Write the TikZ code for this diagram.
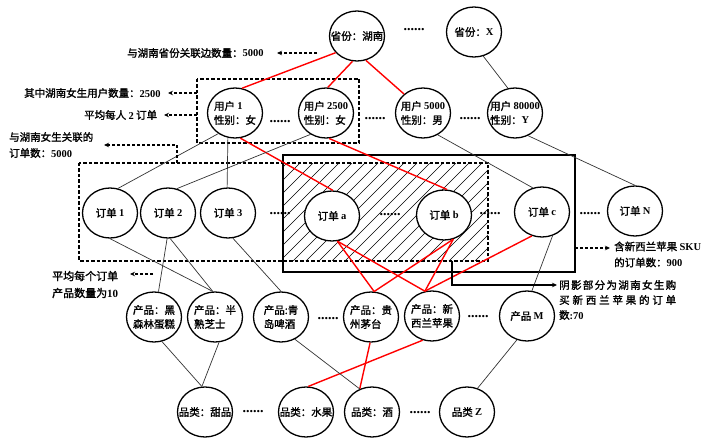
\documentclass[tikz,border=0pt]{standalone}
\usepackage{fontspec}
\setmainfont{Noto Sans CJK SC}[AutoFakeBold=1.6]
\newfontfamily\lat{Liberation Serif}
\usetikzlibrary{shapes.geometric,arrows.meta}
\newcommand{\la}[1]{{\lat\bfseries #1}}
\newcommand{\mynode}[3]{\node[ell] (#1) at (#2) {}; \node[ntxt] (#1t) at (#1) {#3};}
\begin{document}
\begin{tikzpicture}[x=1pt,y=-1pt,
 ell/.style={ellipse,draw=black,line width=1.3pt,fill=white,minimum width=55pt,minimum height=50pt,inner sep=0pt},
 ntxt/.style={font=\bfseries\fontsize{10.5}{14}\selectfont,align=left,inner sep=0pt},
 lbl/.style={font=\bfseries\fontsize{10.5}{16}\selectfont,align=left,inner sep=0pt,anchor=west},
 gline/.style={draw=black!80,line width=0.7pt},
 rline/.style={draw=red,line width=1.4pt},
 dbox/.style={draw=black,line width=1.3pt,dash pattern=on 3.5pt off 2pt},
 darr/.style={draw=black,line width=1.1pt,dash pattern=on 3pt off 2pt,-{Stealth[length=5pt,width=4.5pt]}},
 sarr/.style={draw=black,line width=1.3pt,-{Stealth[length=5pt,width=4.5pt]}},
 dots/.style={font=\lat\bfseries\fontsize{14}{14}\selectfont,inner sep=0pt}
]
\useasboundingbox (0,0) rectangle (720,446);
\fill[white] (0,0) rectangle (720,446);
% hatching
\begin{scope}
\clip (283,163) rectangle (488,261);
\foreach \x in {176,189,...,500} \draw[line width=0.5pt] (\x,261) -- (\x+98,163);
\end{scope}
\draw[line width=1.4pt] (283,155) rectangle (575,272);
\draw[dbox] (79,163) rectangle (488,261);
\draw[dbox] (197,79) rectangle (359,143);
% nodes
\mynode{hn}{357,36}{省份：湖南}
\mynode{px}{474,32}{省份：\la{X}}
\mynode{u1}{235,113}{用户 \la{1}\\性别：女}
\mynode{u2}{326,113}{用户 \la{2500}\\性别：女}
\mynode{u3}{423,113}{用户 \la{5000}\\性别：男}
\mynode{u4}{515,113}{用户 \la{80000}\\性别：\la{Y}}
\mynode{o1}{110,213}{订单 \la{1}}
\mynode{o2}{168,213}{订单 \la{2}}
\mynode{o3}{228,213}{订单 \la{3}}
\mynode{oa}{332,216}{订单 \la{a}}
\mynode{ob}{444,215}{订单 \la{b}}
\mynode{oc}{542,212}{订单 \la{c}}
\mynode{oN}{635,211}{订单 \la{N}}
\mynode{p1}{154,317}{产品：黑\\森林蛋糕}
\mynode{p2}{215,317}{产品：半\\熟芝士}
\mynode{p3}{281,317}{产品:青\\岛啤酒}
\mynode{p4}{371,317}{产品：贵\\州茅台}
\mynode{p5}{432,316}{产品：新\\西兰苹果}
\mynode{pM}{527,316}{产品 \la{M}}
\mynode{c1}{205,412}{品类：甜品}
\mynode{c2}{306,412}{品类：水果}
\mynode{c3}{372,412}{品类：酒}
\mynode{cZ}{467,412}{品类 \la{Z}}
% dots
\node[dots] (d1) at (414,30) {......};
\node[dots] (d2) at (280,122) {......};
\node[dots] (d3) at (375,119) {......};
\node[dots] (d4) at (470,119) {......};
\node[dots] (d5) at (280,214) {......};
\node[dots] (d6) at (390,215) {......};
\node[dots] (d7) at (490,214) {......};
\node[dots] (d8) at (590,214) {......};
\node[dots] (d9) at (328,319) {......};
\node[dots] (d10) at (478,317) {......};
\node[dots] (d11) at (253,412) {......};
\node[dots] (d12) at (420,413) {......};
% red edges
\draw[rline] (hn.218) -- (u1.74);
\draw[rline] (hn.260) -- (u2.86);
\draw[rline] (hn.290) -- (u3.135);
\draw[rline] (u1.282) -- (oa.88);
\draw[rline] (u2.277) -- (ob.83);
\draw[rline] (oa.282) -- (p4.83);
\draw[rline] (oa.282) -- (p5.106);
\draw[rline] (ob.291) -- (p4.83);
\draw[rline] (ob.291) -- (p5.106);
\draw[rline] (oc.247) -- (p5.106);
\draw[rline] (p4.268) -- (c3.118);
\draw[rline] (p5.249) -- (c2.85);
% gray edges
\draw[gline] (px.291) -- (u4.106);
\draw[gline] (u1.231) -- (o1.72);
\draw[gline] (u1.254) -- (o3.92);
\draw[gline] (u2.234) -- (o2.70);
\draw[gline] (u3.304) -- (oc.111);
\draw[gline] (u4.300) -- (oN.90);
\draw[gline] (o1.270) -- (p2.95);
\draw[gline] (o2.268) -- (p1.80);
\draw[gline] (o2.275) -- (p2.95);
\draw[gline] (o3.281) -- (p3.90);
\draw[gline] (oc.294) -- (pM.79);
\draw[gline] (p1.288) -- (c1.97);
\draw[gline] (p2.279) -- (c1.97);
\draw[gline] (p3.302) -- (c3.118);
\draw[gline] (pM.247) -- (cZ.66);
% labels
\node[lbl] (l1) at (127,53) {与湖南省份关联边数量：\la{5000}};
\node[lbl] (l2) at (24,93) {其中湖南女生用户数量：\la{2500}};
\node[lbl] (l3) at (84,115) {平均每人 \la{2} 订单};
\node[lbl] (l4) at (9,145) {与湖南女生关联的\\订单数：\la{5000}};
\node[lbl,font=\bfseries\fontsize{11}{17}\selectfont] (l5) at (52,284.5) {平均每个订单\\产品数量为\la{10}};
\node[lbl] (l6) at (614,254.5) {含新西兰苹果 \la{SKU}\\的订单数：\la{900}};
\node[lbl,font=\bfseries\fontsize{10.5}{15}\selectfont] (l7) at (559,300) {\makebox[117pt][s]{阴\hfill 影\hfill 部\hfill 分\hfill 为\hfill 湖\hfill 南\hfill 女\hfill 生\hfill 购}\\\makebox[117pt][s]{买\hfill 新\hfill 西\hfill 兰\hfill 苹\hfill 果\hfill 的\hfill 订\hfill 单}\\数\la{:70}};
% arrows
\coordinate (a1s) at (317,53); \coordinate (a1e) at (277,53);
\draw[darr] (a1s) -- (a1e);
\coordinate (a2s) at (197,93); \coordinate (a2e) at (168,93);
\draw[darr] (a2s) -- (a2e);
\coordinate (a3s) at (197,115); \coordinate (a3e) at (164,115);
\draw[darr] (a3s) -- (a3e);
\coordinate (a4s) at (177,163); \coordinate (a4e) at (104,145);
\draw[darr] (a4s) |- (a4e);
\coordinate (a5s) at (153,274); \coordinate (a5e) at (130,274);
\draw[darr] (a5s) -- (a5e);
\coordinate (a6s) at (575,248); \coordinate (a6e) at (610,248);
\draw[darr] (a6s) -- (a6e);
\coordinate (a7s) at (452,261); \coordinate (a7e) at (557,285);
\draw[sarr] (a7s) |- (a7e);
\end{tikzpicture}
\end{document}
